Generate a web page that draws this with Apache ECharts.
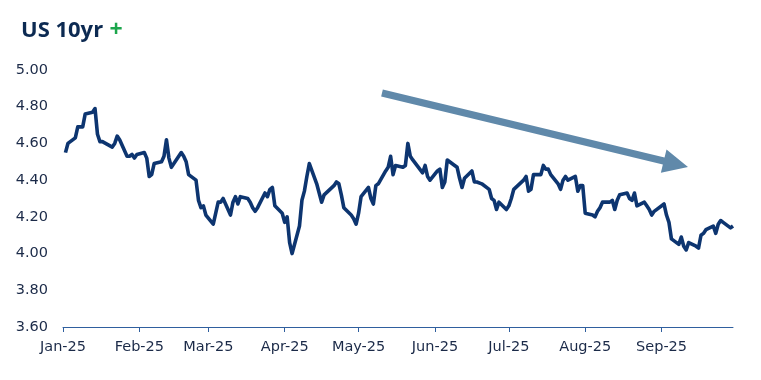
<!DOCTYPE html>
<html><head><meta charset="utf-8">
<script src="https://cdn.jsdelivr.net/npm/echarts@6/dist/echarts.min.js"></script>
<style>html,body{margin:0;padding:0;background:#fff}#c{width:761px;height:380px}</style>
</head><body><div id="c"></div>
<script>
var dates = [
"2025-01-02","2025-01-03","2025-01-06","2025-01-07","2025-01-08","2025-01-09","2025-01-10","2025-01-13","2025-01-14","2025-01-15","2025-01-16","2025-01-17","2025-01-21","2025-01-22","2025-01-23","2025-01-24","2025-01-27","2025-01-28","2025-01-29","2025-01-30","2025-01-31",
"2025-02-03","2025-02-04","2025-02-05","2025-02-06","2025-02-07","2025-02-10","2025-02-11","2025-02-12","2025-02-13","2025-02-14","2025-02-18","2025-02-19","2025-02-20","2025-02-21","2025-02-24","2025-02-25","2025-02-26","2025-02-27","2025-02-28",
"2025-03-03","2025-03-04","2025-03-05","2025-03-06","2025-03-07","2025-03-10","2025-03-11","2025-03-12","2025-03-13","2025-03-14","2025-03-17","2025-03-18","2025-03-19","2025-03-20","2025-03-21","2025-03-24","2025-03-25","2025-03-26","2025-03-27","2025-03-28","2025-03-31",
"2025-04-01","2025-04-02","2025-04-03","2025-04-04","2025-04-07","2025-04-08","2025-04-09","2025-04-10","2025-04-11","2025-04-14","2025-04-15","2025-04-16","2025-04-17","2025-04-21","2025-04-22","2025-04-23","2025-04-24","2025-04-25","2025-04-28","2025-04-29","2025-04-30",
"2025-05-01","2025-05-02","2025-05-05","2025-05-06","2025-05-07","2025-05-08","2025-05-09","2025-05-12","2025-05-13","2025-05-14","2025-05-15","2025-05-16","2025-05-19","2025-05-20","2025-05-21","2025-05-22","2025-05-23","2025-05-27","2025-05-28","2025-05-29","2025-05-30",
"2025-06-02","2025-06-03","2025-06-04","2025-06-05","2025-06-06","2025-06-09","2025-06-10","2025-06-11","2025-06-12","2025-06-13","2025-06-16","2025-06-17","2025-06-18","2025-06-20","2025-06-23","2025-06-24","2025-06-25","2025-06-26","2025-06-27","2025-06-30",
"2025-07-01","2025-07-02","2025-07-03","2025-07-07","2025-07-08","2025-07-09","2025-07-10","2025-07-11","2025-07-14","2025-07-15","2025-07-16","2025-07-17","2025-07-18","2025-07-21","2025-07-22","2025-07-23","2025-07-24","2025-07-25","2025-07-28","2025-07-29","2025-07-30","2025-07-31",
"2025-08-01","2025-08-04","2025-08-05","2025-08-06","2025-08-07","2025-08-08","2025-08-11","2025-08-12","2025-08-13","2025-08-14","2025-08-15","2025-08-18","2025-08-19","2025-08-20","2025-08-21","2025-08-22","2025-08-25","2025-08-26","2025-08-27","2025-08-28","2025-08-29",
"2025-09-02","2025-09-03","2025-09-04","2025-09-05","2025-09-08","2025-09-09","2025-09-10","2025-09-11","2025-09-12","2025-09-15","2025-09-16","2025-09-17","2025-09-18","2025-09-19","2025-09-22","2025-09-23","2025-09-24","2025-09-25","2025-09-26","2025-09-29","2025-09-30"
];
var yields = [
4.55,4.60,4.63,4.69,4.69,4.69,4.76,4.77,4.79,4.65,4.61,4.61,4.58,4.60,4.64,4.62,4.53,4.53,4.54,4.52,4.54,
4.55,4.52,4.42,4.43,4.49,4.50,4.53,4.62,4.52,4.47,4.55,4.53,4.50,4.43,4.40,4.29,4.25,4.26,4.21,
4.16,4.22,4.28,4.28,4.30,4.21,4.28,4.31,4.27,4.31,4.30,4.28,4.25,4.23,4.25,4.33,4.31,4.35,4.36,4.26,4.22,
4.17,4.20,4.06,4.00,4.15,4.29,4.34,4.42,4.49,4.38,4.33,4.28,4.32,4.37,4.39,4.38,4.32,4.25,4.21,4.19,4.16,
4.22,4.31,4.36,4.30,4.27,4.37,4.38,4.45,4.47,4.53,4.43,4.48,4.47,4.48,4.60,4.53,4.51,4.44,4.48,4.42,4.40,
4.45,4.46,4.36,4.39,4.51,4.48,4.47,4.41,4.36,4.41,4.45,4.39,4.39,4.38,4.35,4.30,4.29,4.24,4.28,4.24,
4.26,4.30,4.35,4.40,4.42,4.34,4.35,4.43,4.43,4.48,4.46,4.46,4.43,4.38,4.35,4.40,4.42,4.40,4.42,4.34,4.37,4.37,
4.22,4.21,4.20,4.23,4.25,4.28,4.28,4.29,4.24,4.29,4.32,4.33,4.30,4.29,4.33,4.26,4.28,4.26,4.24,4.21,4.23,
4.27,4.21,4.17,4.08,4.05,4.09,4.04,4.02,4.06,4.04,4.03,4.10,4.11,4.13,4.15,4.11,4.16,4.18,4.17,4.14,4.15
];
var monthLabels = ["Jan-25","Feb-25","Mar-25","Apr-25","May-25","Jun-25","Jul-25","Aug-25","Sep-25"];
var yTicks = [3.6,3.8,4.0,4.2,4.4,4.6,4.8,5.0];

function dayIndex(s){var p=s.split("-");return Math.round((Date.UTC(+p[0],+p[1]-1,+p[2])-Date.UTC(2025,0,1))/86400000);}
var monthStarts = monthLabels.map(function(_,i){return Math.round((Date.UTC(2025,i,1)-Date.UTC(2025,0,1))/86400000);});
var seriesData = dates.map(function(d,i){return [dayIndex(d), yields[i]];});
var labelMap = {}; monthStarts.forEach(function(d,i){labelMap[d]=monthLabels[i];});

var navy = "#0c2a52";
var chart = echarts.init(document.getElementById("c"), null, {renderer:"canvas"});
// arrow geometry (annotation)
var S=[382,93], T=[688,167];
var dx=T[0]-S[0], dy=T[1]-S[1], L=Math.sqrt(dx*dx+dy*dy), ux=dx/L, uy=dy/L, nx=-uy, ny=ux;
var hl=25, hw=12, sw=3.6;
var B=[T[0]-hl*ux, T[1]-hl*uy];
function P(b,k){return [b[0]+k*nx, b[1]+k*ny];}
var arrowPts=[P(S,sw),P(S,-sw),P(B,-sw),P(B,-hw),T,P(B,hw),P(B,sw)];

chart.setOption({
  animation:false,
  textStyle:{fontFamily:"DejaVu Sans"},
  title:{
    text:"{a|US 10yr} {b|+}",
    left:16, top:14,
    textStyle:{rich:{
      a:{fontFamily:"Open Sans",fontWeight:"bold",fontSize:22,color:navy},
      b:{fontFamily:"Open Sans",fontWeight:"bold",fontSize:23,color:"#1ca64c"}
    }}
  },
  grid:{left:63,right:28,top:70,bottom:53,containLabel:false},
  xAxis:{
    type:"value", min:0, max:272,
    axisLine:{show:true,lineStyle:{color:"#2f5f9e",width:1}},
    axisTick:{show:true,length:5,lineStyle:{color:"#2f5f9e"},customValues:monthStarts},
    axisLabel:{customValues:monthStarts,margin:13,color:"#1b2a48",fontSize:14.5,
      formatter:function(v){return labelMap[Math.round(v)]||"";}},
    splitLine:{show:false}
  },
  yAxis:{
    type:"value", min:3.6, max:5.0, interval:0.2,
    axisLine:{show:false}, axisTick:{show:false}, splitLine:{show:false},
    axisLabel:{margin:15,color:"#1b2a48",fontSize:14.5,formatter:function(v){return v.toFixed(2);}}
  },
  series:[{
    type:"line", data:seriesData, showSymbol:false, symbol:"none",
    lineStyle:{color:"#0d3570",width:3.6,join:"round"}
  }],
  graphic:[{
    type:"polygon", shape:{points:arrowPts}, style:{fill:"#6089aa"}, z:10
  }]
});
</script></body></html>
